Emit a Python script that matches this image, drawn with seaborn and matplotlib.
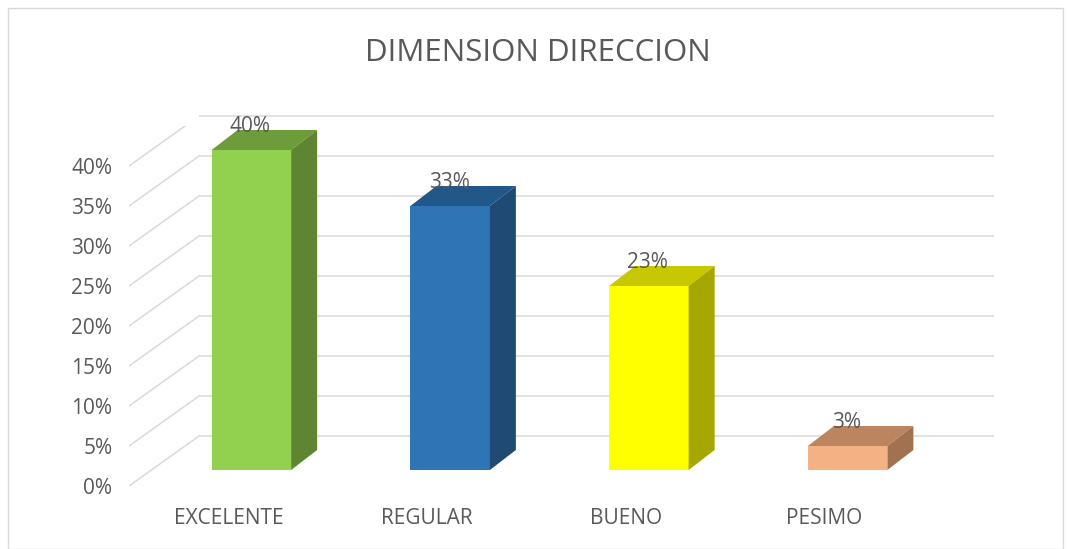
import matplotlib
matplotlib.use("Agg")
import matplotlib.pyplot as plt
import matplotlib.transforms as mtransforms
from matplotlib.patches import Polygon, Rectangle
import seaborn as sns
import pandas as pd

categories = ["EXCELENTE", "REGULAR", "BUENO", "PESIMO"]
values = [0.40, 0.33, 0.23, 0.03]
value_labels = ["40%", "33%", "23%", "3%"]
yticks = [0.0, 0.05, 0.10, 0.15, 0.20, 0.25, 0.30, 0.35, 0.40]
ytick_labels = ["0%", "5%", "10%", "15%", "20%", "25%", "30%", "35%", "40%"]
front_colors = ["#92D050", "#2E75B6", "#FFFF00", "#F4B183"]
side_colors = ["#5E8532", "#1F4A74", "#A6A600", "#A2714F"]
top_colors = ["#6E9C3B", "#22578A", "#C8C800", "#BD8460"]

sns.set_theme(style="white")
plt.rcParams["font.family"] = ["Open Sans", "DejaVu Sans"]

DPI = 100
fig = plt.figure(figsize=(10.67, 5.49), dpi=DPI)
fig.patch.set_facecolor("white")
ax = fig.add_axes([129 / 1067, 63 / 549, 795 / 1067, 360 / 549])
ax.set_facecolor("none")

df = pd.DataFrame({"cat": categories, "val": values})
sns.barplot(data=df, x="cat", y="val", hue="cat", palette=front_colors,
            width=0.4, ax=ax, legend=False, saturation=1, zorder=3)
ax.set_xlim(-0.5, 3.5)
ax.set_ylim(0, 0.45)
for s in ax.spines.values():
    s.set_visible(False)

# pixel offsets for the pseudo 3D depth
front_off = (23, 16)
back_off = (49, 36)
wall_off = (70, 50)

def shifted(off):
    return ax.transData + mtransforms.ScaledTranslation(off[0] / DPI, off[1] / DPI, fig.dpi_scale_trans)

# back wall gridlines and floor diagonals
ax.hlines(yticks, -0.5, 3.5, colors="#D9D9D9", lw=1.1, transform=shifted(wall_off), zorder=1, clip_on=False)
for yv in yticks:
    p = ax.transData.transform((-0.5, yv))
    ax.add_line(plt.Line2D([p[0], p[0] + wall_off[0]], [p[1], p[1] + wall_off[1]],
                           transform=mtransforms.IdentityTransform(), color="#D9D9D9", lw=1.1, zorder=1))

fig.canvas.draw()
for i, patch in enumerate(ax.patches[:len(values)]):
    patch.set_transform(shifted(front_off))
    patch.set_edgecolor("none")
    x0 = patch.get_x(); w = patch.get_width(); h = patch.get_height()
    fl = ax.transData.transform((x0, h)); fr = ax.transData.transform((x0 + w, h))
    frb = ax.transData.transform((x0 + w, 0))
    def o(p, off):
        return (p[0] + off[0], p[1] + off[1])
    top = Polygon([o(fl, front_off), o(fr, front_off), o(fr, back_off), o(fl, back_off)],
                  closed=True, facecolor=top_colors[i], edgecolor="none",
                  transform=mtransforms.IdentityTransform(), zorder=4, clip_on=False)
    side = Polygon([o(frb, front_off), o(fr, front_off), o(fr, back_off), o(frb, back_off)],
                   closed=True, facecolor=side_colors[i], edgecolor="none",
                   transform=mtransforms.IdentityTransform(), zorder=4, clip_on=False)
    ax.add_patch(top); ax.add_patch(side)
    cx = ax.transData.transform((x0 + w / 2, h))
    ax.text(cx[0] + front_off[0] - 1, cx[1] + back_off[1] + 3, value_labels[i],
            transform=mtransforms.IdentityTransform(), ha="center", va="center",
            fontsize=15, color="#595959", zorder=5)

ax.set_yticks(yticks)
ax.set_yticklabels(ytick_labels)
ax.tick_params(axis="y", length=0, pad=12, labelsize=15, labelcolor="#595959")
ax.tick_params(axis="x", length=0, pad=16, labelsize=15, labelcolor="#595959")
ax.set_xlabel(""); ax.set_ylabel("")

fig.text(538 / 1067, 1 - 53 / 549, "DIMENSION DIRECCION", ha="center", va="center",
         fontsize=22.5, color="#595959")
fig.add_artist(Rectangle((8 / 1067, 0), 1055 / 1067, 541 / 549, transform=fig.transFigure,
                         facecolor="none", edgecolor="#D9D9D9", lw=1))

fig.savefig("out.png", dpi=DPI)
